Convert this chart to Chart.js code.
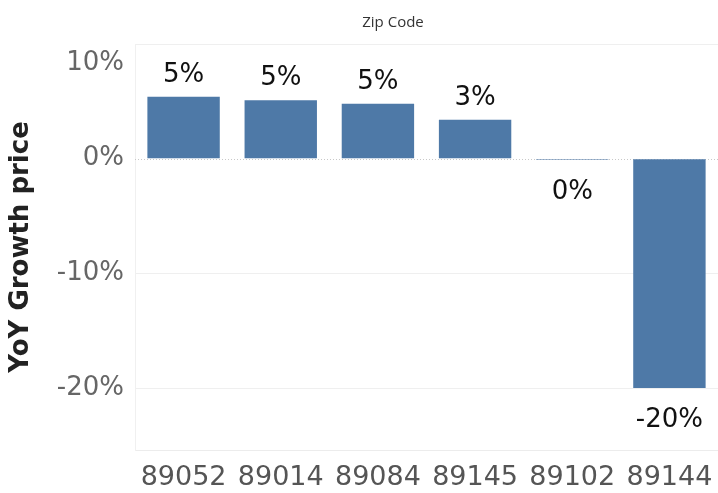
<!DOCTYPE html>
<html>
<head>
<meta charset="utf-8">
<script src="https://cdn.jsdelivr.net/npm/chart.js@4"></script>
<style>
  html, body { margin: 0; padding: 0; background: #fff; }
  #wrap { width: 718px; height: 493px; overflow: hidden; }
</style>
</head>
<body>
<div id="wrap"><canvas id="growth"></canvas></div>
<script>
const zipCodes = ['89052', '89014', '89084', '89145', '89102', '89144'];
const yoyGrowth = [5.4, 5.1, 4.8, 3.4, -0.1, -20.0];
const yTicks = [10, 0, -10, -20];

const fontFamily = '"DejaVu Sans", sans-serif';
const barColor = '#4e79a7';

// value labels above positive bars, below negative ones
const valueLabels = {
  id: 'valueLabels',
  afterDatasetsDraw(chart) {
    const ctx = chart.ctx;
    const meta = chart.getDatasetMeta(0);
    ctx.save();
    ctx.font = '26px ' + fontFamily;
    ctx.fillStyle = '#111';
    ctx.textAlign = 'center';
    ctx.textBaseline = 'alphabetic';
    meta.data.forEach((bar, i) => {
      const v = yoyGrowth[i];
      const txt = Math.round(v) + '%';
      const y = v >= 0 ? bar.y - 15 : bar.y + 39;
      ctx.fillText(txt, bar.x, y);
    });
    ctx.restore();
  }
};

// dotted zero line and the header above the pane
const extras = {
  id: 'extras',
  beforeDatasetsDraw(chart) {
    const ctx = chart.ctx;
    const area = chart.chartArea;
    const y0 = Math.round(chart.scales.y.getPixelForValue(0)) + 0.5;
    ctx.save();
    ctx.strokeStyle = '#c8c8c8';
    ctx.setLineDash([1, 2]);
    ctx.beginPath();
    ctx.moveTo(area.left, y0);
    ctx.lineTo(area.right, y0);
    ctx.stroke();
    ctx.restore();
  },
  afterDraw(chart) {
    const ctx = chart.ctx;
    ctx.save();
    ctx.font = '15px "Open Sans", sans-serif';
    ctx.fillStyle = '#333';
    ctx.textAlign = 'center';
    ctx.textBaseline = 'middle';
    ctx.fillText('Zip Code', 393, 23);
    ctx.restore();
  }
};

new Chart(document.getElementById('growth'), {
  type: 'bar',
  data: {
    labels: zipCodes,
    datasets: [{
      label: 'YoY Growth price',
      data: yoyGrowth,
      backgroundColor: barColor,
      borderWidth: 0,
      barPercentage: 0.745,
      categoryPercentage: 1.0
    }]
  },
  options: {
    responsive: true,
    maintainAspectRatio: false,
    animation: false,
    layout: { padding: { top: 44, right: -4, bottom: 0, left: 0 } },
    plugins: {
      legend: { display: false },
      tooltip: { enabled: false }
    },
    scales: {
      x: {
        grid: { display: false, drawTicks: false },
        border: { display: true, color: '#ececec' },
        ticks: {
          color: '#555',
          padding: 12,
          maxRotation: 0,
          autoSkip: false,
          font: { family: fontFamily, size: 27 }
        },
        afterFit(scale) {
          scale.height = 43;
          scale.paddingLeft = 0;
          scale.paddingRight = 0;
        }
      },
      y: {
        min: -25.4,
        max: 10,
        afterBuildTicks(scale) {
          scale.ticks = yTicks.map(v => ({ value: v }));
        },
        grid: {
          drawTicks: false,
          color: ctx => (ctx.tick && ctx.tick.value === 0 ? 'rgba(0,0,0,0)' : '#efefef')
        },
        border: { display: true, color: '#f0f0f0' },
        ticks: {
          color: '#666',
          padding: 11,
          font: { family: fontFamily, size: 26, lineHeight: 1.5 },
          // top label sits just inside the pane
          callback: v => (v === 10 ? ['', v + '%'] : v + '%')
        },
        title: {
          display: true,
          text: 'YoY Growth price',
          color: '#222',
          padding: { top: 6, bottom: 0 },
          font: { family: fontFamily, size: 26, weight: 'bold', lineHeight: 1.2 }
        },
        afterFit(scale) {
          scale.width = 135;
          scale.paddingTop = 0;
          scale.paddingBottom = 0;
        }
      }
    }
  },
  plugins: [valueLabels, extras]
});
</script>
</body>
</html>
